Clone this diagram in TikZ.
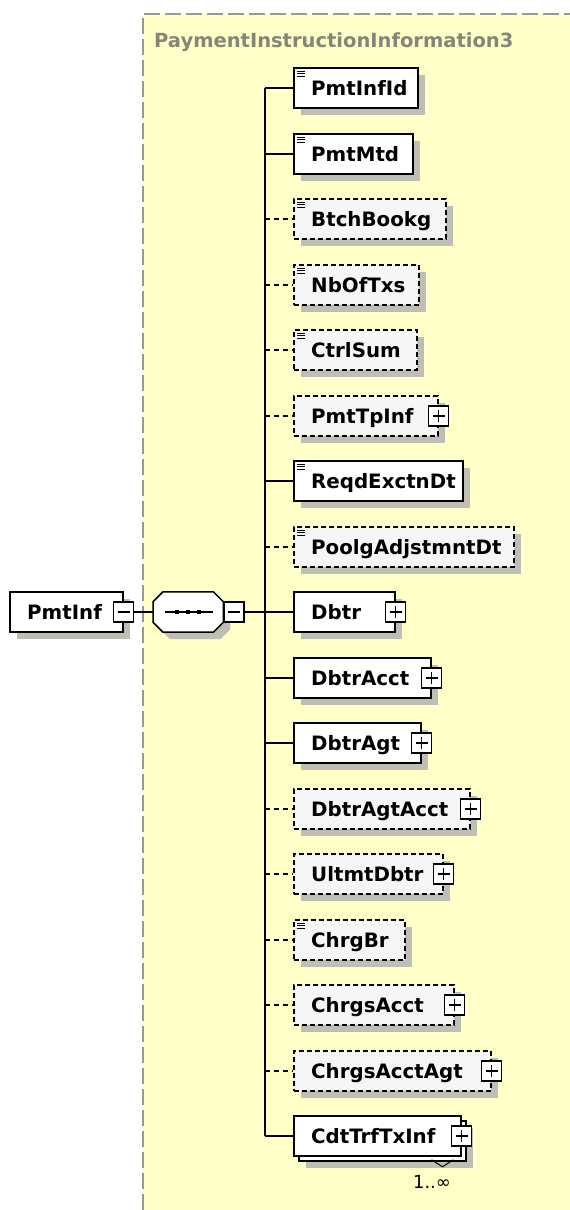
\documentclass[tikz,border=0pt]{standalone}
\usepackage{fontspec}
\setmainfont{DejaVu Sans}
\usetikzlibrary{shadows}
\definecolor{bgyellow}{HTML}{FFFFC8}
\definecolor{shgray}{HTML}{BEBEB4}
\definecolor{titlegray}{HTML}{858578}
\definecolor{optfill}{HTML}{F6F6F6}
\definecolor{bordergray}{HTML}{9A9A8C}
\newcommand\docicon[1]{\draw[line width=0.9pt]
  ([xshift=4pt,yshift=-4pt]#1.north west) -- ++(8pt,0)
  ([xshift=4pt,yshift=-6.5pt]#1.north west) -- ++(8pt,0)
  ([xshift=4pt,yshift=-9pt]#1.north west) -- ++(8pt,0);}
\begin{document}
\begin{tikzpicture}[x=1pt,y=-1pt,
  shad/.style={general shadow={fill=shgray, shadow xshift=7pt, shadow yshift=-7pt}},
  ebox/.style={draw=black, line width=1.5pt, fill=white, anchor=west, minimum height=40pt, minimum width=#1, inner sep=0pt},
  optbox/.style={ebox=#1, dash pattern=on 5pt off 3pt, fill=optfill},
  etext/.style={anchor=base west, inner sep=0pt, font=\bfseries\fontsize{19.8}{20}\selectfont},
  pbox/.style={draw=black, line width=1.3pt, fill=white, minimum width=20pt, minimum height=20pt, inner sep=0pt,
    path picture={\draw[line width=1.3pt] ([xshift=-6pt]path picture bounding box.center) -- ([xshift=6pt]path picture bounding box.center)
      ([yshift=-6pt]path picture bounding box.center) -- ([yshift=6pt]path picture bounding box.center);}},
  mbox/.style={draw=black, line width=1.3pt, fill=white, minimum width=20pt, minimum height=20pt, inner sep=0pt,
    path picture={\draw[line width=1.3pt] ([xshift=-6pt]path picture bounding box.center) -- ([xshift=6pt]path picture bounding box.center);}},
  conn/.style={line width=1.6pt, draw=black},
  optconn/.style={conn, dash pattern=on 5pt off 4pt},
]
\useasboundingbox (0,0) rectangle (570,1210);
\fill[white] (0,0) rectangle (570,1210);
\fill[bgyellow] (143,14) rectangle (570,1210);
\draw[bordergray, line width=1.5pt, dash pattern=on 16pt off 5pt] (143,1210) -- (143,14) -- (570,14);
\node[anchor=base west, inner sep=0pt, font=\bfseries\fontsize{19.5}{20}\selectfont, text=titlegray] (title) at (154,47) {PaymentInstructionInformation3};

% root element
\node[ebox=113pt, shad] (root) at (9,612) {};
\node[etext] (troot) at ([xshift=18pt,yshift=-7.5pt]root.west) {PmtInf};
\node[mbox] (rootm) at (root.east) {};

% sequence compositor
\node[minimum width=70pt, minimum height=40pt, inner sep=0pt, anchor=west] (seq) at (153,612) {};
\draw[shad, fill=white, line width=1.5pt] ([xshift=10pt]seq.north west) -- ([xshift=-10pt]seq.north east) -- ([yshift=-10pt]seq.north east) -- ([yshift=10pt]seq.south east) -- ([xshift=-10pt]seq.south east) -- ([xshift=10pt]seq.south west) -- ([yshift=10pt]seq.south west) -- ([yshift=-10pt]seq.north west) -- cycle;
\draw[line width=1.5pt] ([xshift=12pt]seq.west) -- ([xshift=-10pt]seq.east);
\foreach \dx in {-11,0,11} \fill ([shift={(\dx pt-2.25pt,-2.25pt)}]seq.center) rectangle ++(4.5pt,4.5pt);
\node[mbox, anchor=west] (seqm) at (seq.east) {};

% children
\node[ebox=124pt, shad] (e1) at (293,88) {};
\node[ebox=119pt, shad] (e2) at (293,154) {};
\node[optbox=152pt, shad] (e3) at (293,219) {};
\node[optbox=125pt, shad] (e4) at (293,285) {};
\node[optbox=123pt, shad] (e5) at (293,350) {};
\node[optbox=144pt, shad] (e6) at (293,416) {};
\node[ebox=169pt, shad] (e7) at (293,481) {};
\node[optbox=220pt, shad] (e8) at (293,547) {};
\node[ebox=101pt, shad] (e9) at (293,612) {};
\node[ebox=137pt, shad] (e10) at (293,678) {};
\node[ebox=127pt, shad] (e11) at (293,743) {};
\node[optbox=176pt, shad] (e12) at (293,809) {};
\node[optbox=149pt, shad] (e13) at (293,874) {};
\node[optbox=111pt, shad] (e14) at (293,940) {};
\node[optbox=160pt, shad] (e15) at (293,1005) {};
\node[optbox=197pt, shad] (e16) at (293,1071) {};
\node[ebox=167pt, shad] (e17b) at (298,1141) {};
\node[ebox=167pt] (e17) at (293,1136) {};

\node[etext] (t1) at ([xshift=18pt,yshift=-7.5pt]e1.west) {PmtInfId};
\node[etext] (t2) at ([xshift=18pt,yshift=-7.5pt]e2.west) {PmtMtd};
\node[etext] (t3) at ([xshift=18pt,yshift=-7.5pt]e3.west) {BtchBookg};
\node[etext] (t4) at ([xshift=18pt,yshift=-7.5pt]e4.west) {NbOfTxs};
\node[etext] (t5) at ([xshift=18pt,yshift=-7.5pt]e5.west) {CtrlSum};
\node[etext] (t6) at ([xshift=18pt,yshift=-7.5pt]e6.west) {PmtTpInf};
\node[etext] (t7) at ([xshift=18pt,yshift=-7.5pt]e7.west) {ReqdExctnDt};
\node[etext] (t8) at ([xshift=18pt,yshift=-7.5pt]e8.west) {PoolgAdjstmntDt};
\node[etext] (t9) at ([xshift=18pt,yshift=-7.5pt]e9.west) {Dbtr};
\node[etext] (t10) at ([xshift=18pt,yshift=-7.5pt]e10.west) {DbtrAcct};
\node[etext] (t11) at ([xshift=18pt,yshift=-7.5pt]e11.west) {DbtrAgt};
\node[etext] (t12) at ([xshift=18pt,yshift=-7.5pt]e12.west) {DbtrAgtAcct};
\node[etext] (t13) at ([xshift=18pt,yshift=-7.5pt]e13.west) {UltmtDbtr};
\node[etext] (t14) at ([xshift=18pt,yshift=-7.5pt]e14.west) {ChrgBr};
\node[etext] (t15) at ([xshift=18pt,yshift=-7.5pt]e15.west) {ChrgsAcct};
\node[etext] (t16) at ([xshift=18pt,yshift=-7.5pt]e16.west) {ChrgsAcctAgt};
\node[etext] (t17) at ([xshift=18pt,yshift=-7.5pt]e17.west) {CdtTrfTxInf};

% simple-type icons
\docicon{e1}\docicon{e2}\docicon{e3}\docicon{e4}\docicon{e5}\docicon{e7}\docicon{e8}\docicon{e14}

% expand boxes
\node[pbox] (p6) at (e6.east) {};
\node[pbox] (p9) at (e9.east) {};
\node[pbox] (p10) at (e10.east) {};
\node[pbox] (p11) at (e11.east) {};
\node[pbox] (p12) at (e12.east) {};
\node[pbox] (p13) at (e13.east) {};
\node[pbox] (p15) at (e15.east) {};
\node[pbox] (p16) at (e16.east) {};
\node[pbox] (p17) at (e17.east) {};

% multiplicity
\draw[line width=1pt] ([xshift=-35pt,yshift=2pt]e17b.south east) -- ++(11pt,-7pt) -- ++(11pt,7pt);
\node[anchor=base, inner sep=0pt, font=\fontsize{18}{20}\selectfont] (mult) at (432,1188) {1..∞};

% connectors
\draw[conn] (rootm.east) -- (seq.west);
\draw[conn] (seqm.east) -- (e9.west);
\coordinate (trunk) at (265,612);
\draw[conn] (trunk |- e1.west) -- (trunk |- e17.west);
\draw[conn] (trunk |- e1.west) -- (e1.west);
\draw[conn] (trunk |- e2.west) -- (e2.west);
\draw[optconn] (trunk |- e3.west) -- (e3.west);
\draw[optconn] (trunk |- e4.west) -- (e4.west);
\draw[optconn] (trunk |- e5.west) -- (e5.west);
\draw[optconn] (trunk |- e6.west) -- (e6.west);
\draw[conn] (trunk |- e7.west) -- (e7.west);
\draw[optconn] (trunk |- e8.west) -- (e8.west);
\draw[conn] (trunk |- e10.west) -- (e10.west);
\draw[conn] (trunk |- e11.west) -- (e11.west);
\draw[optconn] (trunk |- e12.west) -- (e12.west);
\draw[optconn] (trunk |- e13.west) -- (e13.west);
\draw[optconn] (trunk |- e14.west) -- (e14.west);
\draw[optconn] (trunk |- e15.west) -- (e15.west);
\draw[optconn] (trunk |- e16.west) -- (e16.west);
\draw[conn] (trunk |- e17.west) -- (e17.west);
\end{tikzpicture}
\end{document}
